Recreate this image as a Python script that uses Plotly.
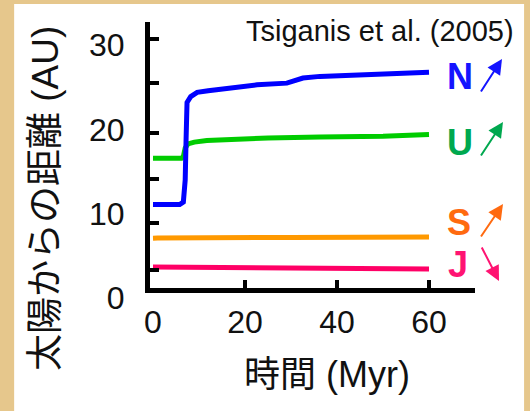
import plotly.graph_objects as go

# Time axis (Myr) and distances from the Sun (AU) for each planet
t_neptune = [0, 5.8, 6.6, 7.0, 7.2, 7.4, 8.2, 9.6, 12, 15.2, 18.9, 22.6, 29.1, 30.6, 32.6, 36.3, 40, 50, 60]
a_neptune = [9.9, 9.9, 10.2, 12.8, 17.8, 22.0, 22.7, 23.2, 23.4, 23.6, 23.8, 24.1, 24.3, 24.5, 24.9, 25.1, 25.2, 25.4, 25.6]

t_uranus = [0, 6.2, 6.6, 7.0, 7.6, 9.0, 11.7, 15, 18.9, 25, 36.3, 40, 50, 60]
a_uranus = [15.4, 15.4, 15.6, 16.6, 17.1, 17.3, 17.5, 17.6, 17.7, 17.8, 17.9, 17.9, 18.0, 18.2]

t_saturn = [0, 1, 30, 60]
a_saturn = [5.9, 5.92, 6.0, 6.05]

t_jupiter = [0, 20, 40, 60]
a_jupiter = [2.5, 2.45, 2.35, 2.25]

x_ticks = [0, 20, 40, 60]
y_ticks = [0, 10, 20, 30]

FONT = "Liberation Sans, Arial, Noto Sans CJK JP, sans-serif"
TAN = "#e6c78c"

fig = go.Figure()
for t, a, col in [
    (t_jupiter, a_jupiter, "#ff0066"),
    (t_saturn, a_saturn, "#ff9900"),
    (t_uranus, a_uranus, "#00cc00"),
    (t_neptune, a_neptune, "#0000ff"),
]:
    fig.add_trace(go.Scatter(x=t, y=a, mode="lines",
                             line=dict(color=col, width=5),
                             hoverinfo="skip", showlegend=False))

fig.update_layout(
    width=530, height=411,
    margin=dict(l=150, r=55, t=22, b=123),
    paper_bgcolor=TAN, plot_bgcolor="white",
    font=dict(family=FONT, color="#111111"),
    showlegend=False,
)

fig.update_xaxes(
    range=[-0.65, 70], showgrid=False, zeroline=False,
    showline=True, linecolor="black", linewidth=5,
    tickmode="array", tickvals=x_ticks, ticks="",
    tickfont=dict(size=32, family=FONT, color="#111111"),
    ticklabelstandoff=2,
    minor=dict(tickmode="array", tickvals=[20, 40, 60], ticks="inside",
               ticklen=8, tickwidth=4, tickcolor="black"),
)
fig.update_yaxes(
    range=[0, 31.55], showgrid=False, zeroline=False,
    showline=True, linecolor="black", linewidth=5,
    tickmode="array", tickvals=y_ticks, ticks="",
    tickfont=dict(size=32, family=FONT, color="#111111"),
    ticklabelstandoff=14, ticklabelshift=10,
    minor=dict(tickmode="array", tickvals=[2.14, 7.71, 12.93, 18.39, 24.32, 29.54],
               ticks="inside", ticklen=9, tickwidth=4, tickcolor="black"),
)

# white card behind the chart
fig.add_shape(type="rect", xref="paper", yref="paper",
              x0=-0.418, x1=1.151, y0=-0.5, y1=1.068,
              fillcolor="white", line=dict(width=0), layer="below")

def px_x(p):
    return (p - 150) / 325

def px_y(p):
    return (288 - p) / 266

# axis titles
fig.add_annotation(text="太陽からの距離 (AU)", textangle=-90, showarrow=False,
                   xref="paper", yref="paper", x=px_x(45), y=px_y(199),
                   xanchor="center", yanchor="middle",
                   font=dict(size=37, family=FONT, color="#111111"))
fig.add_annotation(text="時間 (Myr)", showarrow=False,
                   xref="paper", yref="paper", x=px_x(327), y=px_y(374),
                   xanchor="center", yanchor="middle",
                   font=dict(size=36, family=FONT, color="#111111"))
fig.add_annotation(text="Tsiganis et al. (2005)", showarrow=False,
                   xref="paper", yref="paper", x=px_x(516), y=px_y(31),
                   xanchor="right", yanchor="middle",
                   font=dict(size=29, family=FONT, color="#111111"))

# planet letters with migration arrows
planets = [
    ("N", "#1414ff", 460, 76, (480, 93), (502, 59), "#1414ff"),
    ("U", "#00a84f", 460, 142, (480, 157), (503, 122), "#00a84f"),
    ("S", "#ff6a10", 459, 222, (480, 238), (503, 204), "#ff6a10"),
    ("J", "#ff1472", 458, 264, (481, 246), (499, 281), "#ff1472"),
]
for letter, col, lx, ly, tail, head, acol in planets:
    fig.add_annotation(text=f"<b>{letter}</b>", showarrow=False,
                       xref="paper", yref="paper", x=px_x(lx), y=px_y(ly),
                       xanchor="center", yanchor="middle",
                       font=dict(size=36, family=FONT, color=col))
    fig.add_annotation(text="", showarrow=True,
                       xref="paper", yref="paper", x=px_x(head[0]), y=px_y(head[1]),
                       ax=tail[0] - head[0], ay=tail[1] - head[1],
                       arrowhead=2, arrowwidth=2, arrowsize=1.5, arrowcolor=acol)

fig.write_html("out.html")
